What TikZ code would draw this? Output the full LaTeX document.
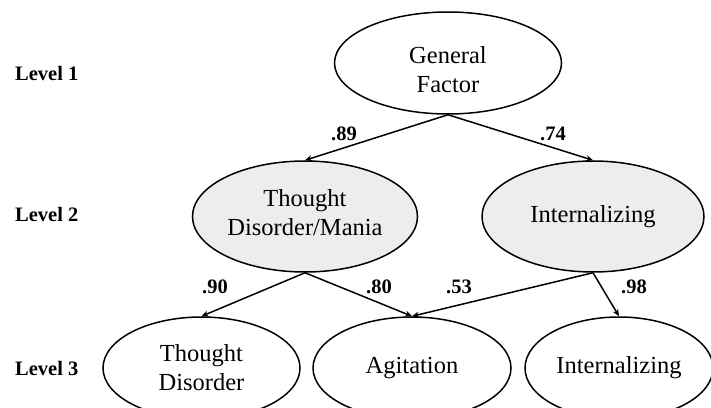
\documentclass[tikz,border=0pt]{standalone}
\usepackage{fontspec}
\setmainfont{Liberation Serif}
\usetikzlibrary{shapes.geometric,arrows.meta}
\tikzset{
  lat/.style={ellipse, draw=black, line width=1.5pt, inner sep=0pt, align=center,
    font=\fontsize{24.5}{29}\selectfont},
  latg/.style={lat, fill=black!7},
  lattext/.style={inner sep=0pt, align=center, font=\fontsize{24.5}{29}\selectfont},
  conn/.style={line width=1.5pt, -{Stealth[length=7pt,width=6pt]}},
  coef/.style={font=\fontsize{20.5}{24}\selectfont\bfseries},
  levlab/.style={anchor=west, inner sep=0pt, font=\fontsize{20.5}{24}\selectfont\bfseries}
}
\begin{document}
\begin{tikzpicture}[x=1pt,y=1pt]
\useasboundingbox (0,0) rectangle (711,407);
\clip (0,0) rectangle (711,407);
\fill[white] (0,0) rectangle (711,407);
% level labels
\node[levlab] (l1) at (15,334) {Level 1};
\node[levlab] (l2) at (15,193) {Level 2};
\node[levlab] (l3) at (15,39) {Level 3};
% ellipses
\node[lat, minimum width=227pt, minimum height=102pt] (gf) at (448,344) {};
\node[lattext] (gft) at ([yshift=-7pt]gf.center) {General\\Factor};
\node[latg, minimum width=225pt, minimum height=111pt] (tdm) at (305,190.5) {};
\node[lattext] (tdmt) at ([yshift=4pt]tdm.center) {Thought\\Disorder/Mania};
\node[latg, minimum width=222pt, minimum height=111pt] (int2) at (593,190.5) {Internalizing};
\node[lat, minimum width=197pt, minimum height=102pt] (td) at (201.5,39) {Thought\\Disorder};
\node[lat, minimum width=198pt, minimum height=102pt] (ag) at (412,39) {Agitation};
\node[lat, minimum width=188pt, minimum height=102pt] (int3) at (619,39) {Internalizing};
% connectors
\draw[conn] (gf.south) -- (tdm.north);
\draw[conn] (gf.south) -- (int2.north);
\draw[conn] (tdm.south) -- (td.north);
\draw[conn] (tdm.south) -- (ag.north);
\draw[conn] (int2.south) -- (ag.north);
\draw[conn] (int2.south) -- (int3.north);
% coefficients
\node[coef] (c89) at (344,273) {.89};
\node[coef] (c74) at (553,273) {.74};
\node[coef] (c90) at (215,120) {.90};
\node[coef] (c80) at (379,120) {.80};
\node[coef] (c53) at (459,120) {.53};
\node[coef] (c98) at (634,120) {.98};
\end{tikzpicture}
\end{document}
